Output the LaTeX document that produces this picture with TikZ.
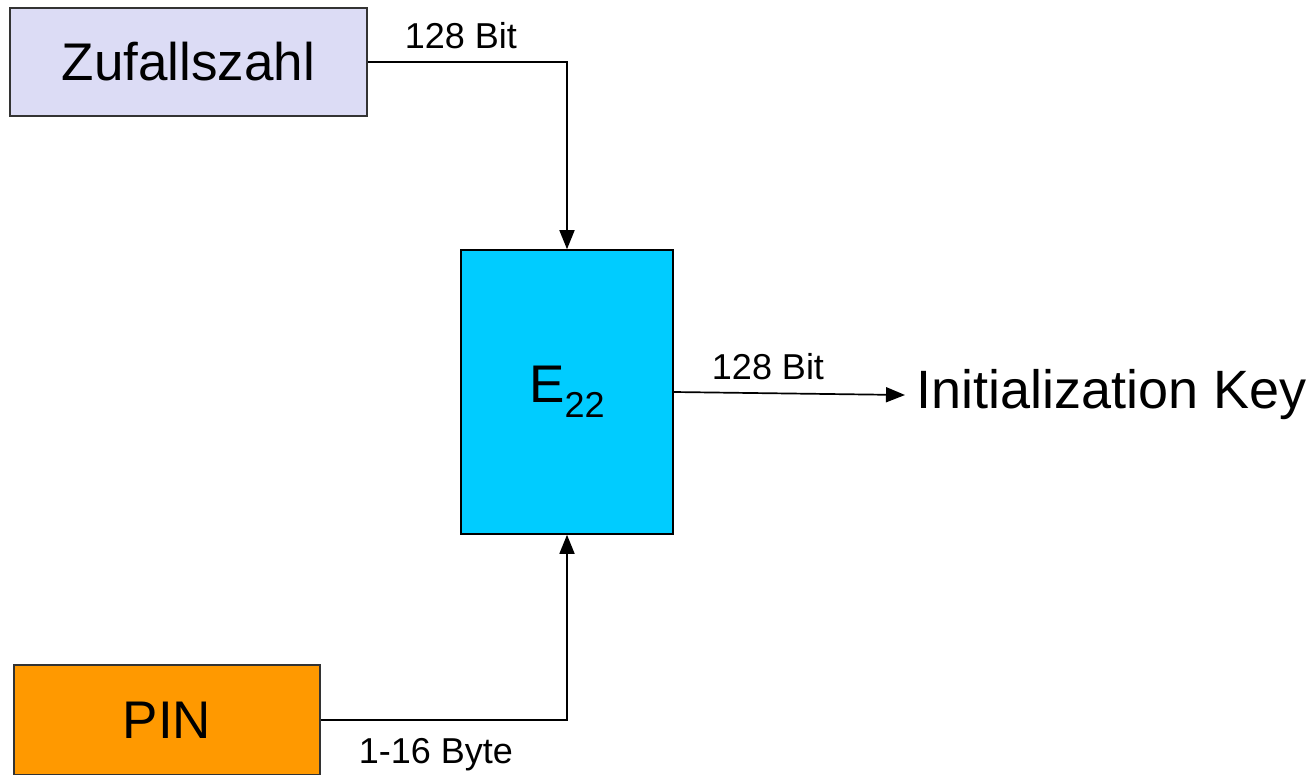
\documentclass[tikz,border=0pt]{standalone}
\usepackage{fontspec}
\setmainfont{Liberation Sans}
\usetikzlibrary{arrows.meta}
\definecolor{lav}{HTML}{DCDCF5}
\definecolor{cyanbox}{HTML}{00CCFF}
\definecolor{orangebox}{HTML}{FF9900}
\definecolor{edge}{HTML}{333333}
\tikzset{
  box/.style={draw=edge, line width=1.6pt, inner sep=0pt, align=center,
    font=\fontsize{53}{60}\selectfont},
  conn/.style={draw=black, line width=1.7pt, -{Triangle[length=19pt,width=15pt]}},
  lbl/.style={font=\fontsize{36}{40}\selectfont, inner sep=0pt}
}
\begin{document}
\begin{tikzpicture}[x=1pt,y=-1pt]
\useasboundingbox (0,0) rectangle (1309,774);
\clip (0,0) rectangle (1309,774);
\node[box, fill=lav, minimum width=357pt, minimum height=108pt] (zuf) at (188.5,62) {Zufallszahl};
\node[box, fill=cyanbox, draw=black, minimum width=212pt, minimum height=284pt] (e22) at (567,392)
  {E\raisebox{-15pt}{\fontsize{36}{40}\selectfont 22}};
\node[box, fill=orangebox, minimum width=306pt, minimum height=110pt] (pin) at (167,720) {PIN};
\node[font=\fontsize{54}{60}\selectfont, anchor=west, inner xsep=11pt, inner ysep=0pt] (key) at (905,395) {Initialization Key};
\draw[conn] (zuf.east) -| (e22.north);
\draw[conn] (pin.east) -| (e22.south);
\draw[conn] (e22.east) -- (key.west);
\node[lbl] (l1) at (461,36) {128 Bit};
\node[lbl] (l2) at (768,367) {128 Bit};
\node[lbl] (l3) at (436,755) {1-16 Byte};
\end{tikzpicture}
\end{document}
